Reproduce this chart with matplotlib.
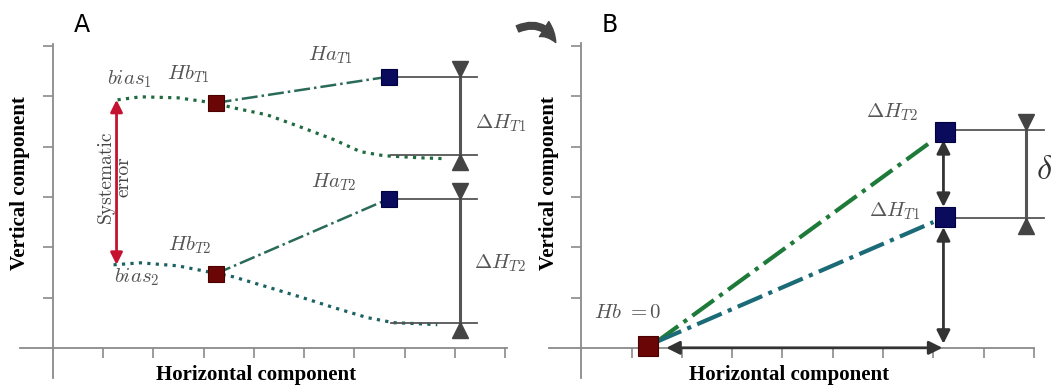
import matplotlib.pyplot as plt
from matplotlib.patches import FancyArrowPatch

plt.rcParams['mathtext.fontset'] = 'cm'

# ---- panel A values (grid units) ----
top_path_x = [1.29, 1.75, 2.49, 3.2, 3.6, 4.27, 4.93, 5.59, 6.12, 6.58, 7.26, 7.81]
top_path_y = [4.93, 4.99, 4.97, 4.87, 4.77, 4.63, 4.39, 4.14, 3.9, 3.82, 3.78, 3.76]
bot_path_x = [1.21, 1.75, 2.49, 3.2, 3.6, 4.27, 4.93, 5.59, 6.26, 6.78, 7.26, 7.65]
bot_path_y = [1.65, 1.69, 1.63, 1.49, 1.41, 1.21, 1.01, 0.80, 0.60, 0.50, 0.48, 0.46]

hb_x = [3.24, 3.24]
hb_y = [4.87, 1.47]
ha_x = [6.68, 6.68]
ha_y = [5.39, 2.96]
drift_level = [3.84, 0.50]
bias_y = [4.93, 1.65]

# ---- panel B values ----
hb0 = (1.33, 0.04)
dh_x = [7.24, 7.24]
dh_y = [2.60, 4.30]      # T1, T2
ref_y = [2.58, 4.33]

grey = '#555555'
axis_c = '#8a8a8a'
maroon = '#6b0606'
navy = '#0b0b5e'


def setup(ax, xlim, ylim):
    ax.set_xlim(*xlim)
    ax.set_ylim(*ylim)
    for s in ['top', 'right']:
        ax.spines[s].set_visible(False)
    ax.spines['left'].set_position(('data', 0))
    ax.spines['bottom'].set_position(('data', 0))
    for s in ['left', 'bottom']:
        ax.spines[s].set_color(axis_c)
        ax.spines[s].set_linewidth(1.3)
    ax.set_xticks(range(1, 10))
    ax.set_yticks(range(1, 7))
    ax.tick_params(direction='out', length=7.5, width=1.2, color=axis_c,
                   labelbottom=False, labelleft=False)
    ax.patch.set_alpha(0)


fig = plt.figure(figsize=(10.51, 3.87), dpi=100)
W, H = 1051, 387

# ================= panel A =================
axA = fig.add_axes([20 / W, 9 / H, 486.7 / W, 334 / H])
setup(axA, (-0.65, 9.03), (-0.6, 6.04))

axA.plot(top_path_x, top_path_y, ':', color='#1e6b40', lw=2.3)
axA.plot(bot_path_x, bot_path_y, ':', color='#1d6262', lw=2.3)
for i in range(2):
    axA.plot([hb_x[i], ha_x[i]], [hb_y[i], ha_y[i]], '-.', color='#2a6a58', lw=1.8)
axA.plot(hb_x, hb_y, 's', color=maroon, ms=12, mec='#4a0000', mew=0.8, zorder=5)
axA.plot(ha_x, ha_y, 's', color=navy, ms=12, mec='#000040', mew=0.8, zorder=5)

# reference lines and delta-H brackets
xb = 8.11
for i in range(2):
    axA.plot([ha_x[i], 8.43], [ha_y[i], ha_y[i]], color=grey, lw=1.3)
    axA.plot([6.72, 8.43], [drift_level[i], drift_level[i]], color=grey, lw=1.3)
    axA.plot([xb, xb], [ha_y[i], drift_level[i]], color=grey, lw=2.2)
    axA.plot(xb, ha_y[i] + 0.15, 'v', color='#444444', ms=11)
    axA.plot(xb, drift_level[i] - 0.15, '^', color='#444444', ms=11)

axA.annotate('', xy=(1.27, bias_y[0]), xytext=(1.27, bias_y[1]),
             arrowprops=dict(arrowstyle='<|-|>', color='#c41230', lw=2,
                             mutation_scale=18, shrinkA=0, shrinkB=0))
axA.text(1.24, 3.4, 'Systematic\nerror', rotation=90, ha='center', va='center',
         fontsize=14, family='cmr10', color='#444444', linespacing=1.0)

lab = dict(fontsize=15, color=grey, ha='center', va='center')
axA.text(1.53, 5.33, r'$bias_1$', **lab)
axA.text(1.67, 1.41, r'$bias_2$', **lab)
axA.text(2.70, 5.43, r'$Hb_{T1}$', **lab)
axA.text(2.72, 2.03, r'$Hb_{T2}$', **lab)
axA.text(5.53, 5.82, r'$Ha_{T1}$', **lab)
axA.text(5.58, 3.30, r'$Ha_{T2}$', **lab)
axA.text(8.90, 4.47, r'$\Delta H_{T1}$', **lab)
axA.text(8.90, 1.69, r'$\Delta H_{T2}$', **lab)

# ================= panel B =================
axB = fig.add_axes([549 / W, 9 / H, 485 / W, 335 / H])
setup(axB, (-0.64, 9.0), (-0.6, 6.06))

axB.plot([1.5, 7.0], [0.12, 4.13], '-.', color='#1d7a38', lw=3)
axB.plot([1.5, 7.0], [0.12, 2.50], '-.', color='#1a6a78', lw=3)
axB.plot(*hb0, 's', color=maroon, ms=14, mec='#4a0000', mew=0.8, zorder=5)
axB.plot(dh_x, dh_y, 's', color=navy, ms=14, mec='#000040', mew=0.8, zorder=5)

arr = dict(arrowstyle='<|-|>', color='#333333', lw=2, mutation_scale=20,
           shrinkA=0, shrinkB=0)
axB.annotate('', xy=(7.2, 4.13), xytext=(7.2, 2.80), arrowprops=arr)
axB.annotate('', xy=(7.2, 2.40), xytext=(7.2, 0.08), arrowprops=arr)
axB.annotate('', xy=(1.69, 0.0), xytext=(7.18, 0.0), arrowprops=arr)

xd = 8.85
for y in ref_y:
    axB.plot([7.3, 9.2], [y, y], color=grey, lw=1.3, clip_on=False)
axB.plot([xd, xd], ref_y, color=grey, lw=2.2)
axB.plot(xd, ref_y[1] + 0.15, 'v', color='#444444', ms=11)
axB.plot(xd, ref_y[0] - 0.15, '^', color='#444444', ms=11)
axB.text(9.03, 3.55, r'$\delta$', fontsize=25, color='#333333', ha='left', va='center')

axB.text(6.18, 4.69, r'$\Delta H_{T2}$', **lab)
axB.text(6.22, 2.72, r'$\Delta H_{T1}$', **lab)
axB.text(0.93, 0.72, r'$Hb\ =0$', **lab)

# axis titles and panel letters
tfont = dict(family='Liberation Serif', weight='bold', fontsize=15)
fig.text(20 / W, 1 - 183 / H, 'Vertical component', rotation=90, ha='center', va='center', **tfont)
fig.text(549 / W, 1 - 183 / H, 'Vertical component', rotation=90, ha='center', va='center', **tfont)
fig.text(256 / W, 1 - 375 / H, 'Horizontal component', ha='center', va='center', **tfont)
fig.text(789 / W, 1 - 375 / H, 'Horizontal component', ha='center', va='center', **tfont)
fig.text(82 / W, 1 - 25 / H, 'A', fontsize=17, ha='center', va='center', family='DejaVu Sans')
fig.text(610 / W, 1 - 25 / H, 'B', fontsize=17, ha='center', va='center', family='DejaVu Sans')

fig.patches.append(FancyArrowPatch((515 / W, 1 - 30 / H), (557 / W, 1 - 45 / H),
                                   transform=fig.transFigure, connectionstyle='arc3,rad=-0.5',
                                   arrowstyle='simple,head_length=0.8,head_width=0.8,tail_width=0.3',
                                   mutation_scale=16, color='#444444'))

fig.savefig('out.png', dpi=100)
